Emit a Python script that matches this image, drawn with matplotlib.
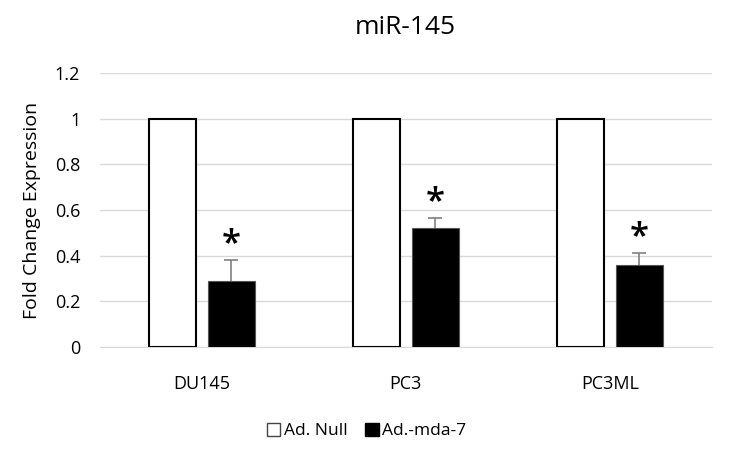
import matplotlib
matplotlib.use("Agg")
import matplotlib.pyplot as plt
import numpy as np
from matplotlib.patches import Patch

categories = ["DU145", "PC3", "PC3ML"]
null_vals = [1.0, 1.0, 1.0]
mda_vals = [0.29, 0.52, 0.36]
mda_err = [0.09, 0.045, 0.05]
yticks = [0, 0.2, 0.4, 0.6, 0.8, 1.0, 1.2]
ytick_labels = ["0", "0.2", "0.4", "0.6", "0.8", "1", "1.2"]

plt.rcParams['font.family'] = ['Open Sans', 'DejaVu Sans']

fig = plt.figure(figsize=(7.33, 4.49), dpi=100)
ax = fig.add_axes([0.136, 0.227, 0.835, 0.61])

x = np.arange(len(categories))
w = 0.23
off = 0.145
ax.bar(x - off, null_vals, w, color="white", edgecolor="black", linewidth=1.5, zorder=3)
ax.bar(x + off, mda_vals, w, color="black", edgecolor="#555555", linewidth=0.8, zorder=3)
eb = ax.errorbar(x + off, mda_vals, yerr=[np.zeros(3), mda_err], fmt="none",
                 ecolor="#808080", elinewidth=1.2, capsize=5, capthick=1.2, zorder=2)
eb[1][0].set_visible(False)
for xi, v, e in zip(x + off, mda_vals, mda_err):
    ax.text(xi, v + e - 0.005, "*", ha="center", va="bottom", fontsize=25,
            fontweight="semibold")

ax.set_xlim(-0.5, 2.5)
ax.set_ylim(0, 1.2)
ax.set_yticks(yticks)
ax.set_yticklabels(ytick_labels, fontsize=13)
ax.set_xticks(x)
ax.set_xticklabels(categories, fontsize=13)
ax.tick_params(axis="y", length=0, pad=14)
ax.tick_params(axis="x", length=0, pad=20)
ax.grid(axis="y", color="#d9d9d9", linewidth=1, zorder=0)
for s in ["top", "right", "left"]:
    ax.spines[s].set_visible(False)
ax.spines["bottom"].set_color("#d9d9d9")
ax.set_ylabel("Fold Change Expression", fontsize=14, labelpad=10)
ax.set_title("miR-145", fontsize=19, pad=28)

handles = [Patch(facecolor="white", edgecolor="#444444", label="Ad. Null"),
           Patch(facecolor="black", edgecolor="black", label="Ad.-mda-7")]
fig.legend(handles=handles, loc="center", bbox_to_anchor=(0.5, 0.04), ncol=2,
           frameon=False, fontsize=12.5, handlelength=0.8, handleheight=0.8,
           handletextpad=0.2, columnspacing=1.0)

fig.savefig("out.png", dpi=100)
